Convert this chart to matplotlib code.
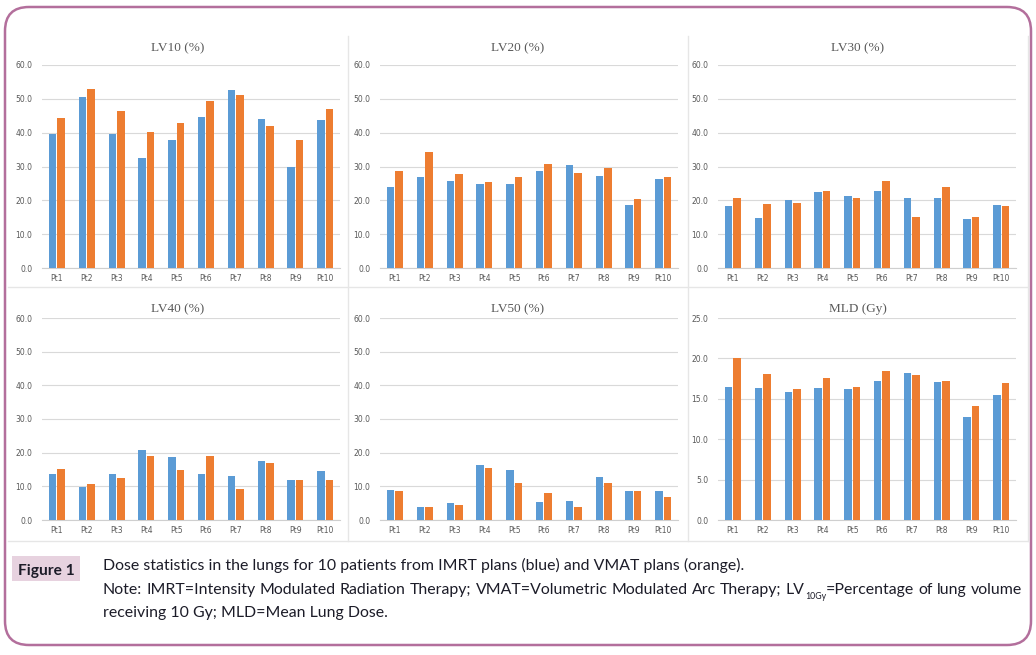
import numpy as np
import matplotlib
matplotlib.use("Agg")
import matplotlib.pyplot as plt
from matplotlib.patches import FancyBboxPatch, Rectangle
from matplotlib.transforms import IdentityTransform
from matplotlib.lines import Line2D

# ---------------- data ----------------
patients = ["Pt1", "Pt2", "Pt3", "Pt4", "Pt5", "Pt6", "Pt7", "Pt8", "Pt9", "Pt10"]

lv10_imrt = [39.5, 50.6, 39.5, 32.4, 37.7, 44.7, 52.7, 43.9, 30.0, 43.6]
lv10_vmat = [44.4, 52.9, 46.5, 40.1, 43.0, 49.5, 51.2, 41.9, 37.7, 47.1]

lv20_imrt = [24.0, 26.9, 25.7, 24.8, 24.8, 28.7, 30.3, 27.1, 18.7, 26.2]
lv20_vmat = [28.8, 34.4, 27.7, 25.3, 26.9, 30.6, 28.0, 29.7, 20.4, 26.9]

lv30_imrt = [18.2, 14.9, 20.1, 22.5, 21.4, 22.9, 20.8, 20.8, 14.4, 18.7]
lv30_vmat = [20.6, 19.0, 19.2, 22.8, 20.6, 25.8, 15.2, 23.9, 15.1, 18.2]

lv40_imrt = [13.6, 9.9, 13.6, 20.7, 18.8, 13.6, 13.1, 17.5, 12.0, 14.6]
lv40_vmat = [15.2, 10.6, 12.4, 19.1, 15.0, 18.9, 9.2, 16.8, 12.0, 12.0]

lv50_imrt = [9.0, 4.0, 5.1, 16.4, 14.8, 5.3, 5.7, 12.9, 8.6, 8.6]
lv50_vmat = [8.6, 4.0, 4.6, 15.5, 10.9, 7.9, 4.0, 10.9, 8.6, 6.9]

mld_imrt = [16.4, 16.3, 15.8, 16.3, 16.2, 17.2, 18.2, 17.1, 12.8, 15.5]
mld_vmat = [20.0, 18.1, 16.2, 17.6, 16.5, 18.4, 18.0, 17.2, 14.1, 16.9]

titles = ["LV10 (%)", "LV20 (%)", "LV30 (%)", "LV40 (%)", "LV50 (%)", "MLD (Gy)"]
imrt_series = [lv10_imrt, lv20_imrt, lv30_imrt, lv40_imrt, lv50_imrt, mld_imrt]
vmat_series = [lv10_vmat, lv20_vmat, lv30_vmat, lv40_vmat, lv50_vmat, mld_vmat]
y_max = [60, 60, 60, 60, 60, 25]
y_step = [10, 10, 10, 10, 10, 5]

caption_label = "Figure 1"
caption_line1 = ("Dose statistics in the lungs for 10 patients from IMRT plans (blue) "
                 "and VMAT plans (orange).")
caption_line2_a = ("Note: IMRT=Intensity Modulated Radiation Therapy; VMAT=Volumetric "
                   "Modulated Arc Therapy;")
caption_line2_lv = "LV"
caption_line2_sub = "10Gy"
caption_line2_b = "=Percentage of lung volume"
caption_line3 = "receiving 10 Gy; MLD=Mean Lung Dose."

# ---------------- style ----------------
BLUE = "#5b9bd5"
ORANGE = "#ed7d31"
GRID = "#d9d9d9"
TICKC = "#595959"
BORDER = "#b36f9c"
CAP_FONT = ["Lato", "DejaVu Sans"]

W, H = 1036, 655
fig = plt.figure(figsize=(W / 100, H / 100), dpi=100)
fig.patch.set_facecolor("white")


def px_axes(x0, x1, ytop, ybot):
    return fig.add_axes([x0 / W, 1 - ybot / H, (x1 - x0) / W, (ybot - ytop) / H])


def ftext(x, y, s, **kw):
    return fig.text(x / W, 1 - y / H, s, **kw)


# panel geometry (pixels)
cols = [(42, 340), (380, 678), (718, 1016)]
rows = [(65, 268), (318, 520)]
panel_centers = [178, 518, 858]
title_y = [48, 309]

x = np.arange(len(patients))
bw = 0.25
for i in range(6):
    r, c = divmod(i, 3)
    ax = px_axes(cols[c][0], cols[c][1], rows[r][0], rows[r][1])
    ax.bar(x - 0.14, imrt_series[i], width=bw, color=BLUE, zorder=3)
    ax.bar(x + 0.145, vmat_series[i], width=bw, color=ORANGE, zorder=3)
    ax.set_xlim(-0.5, len(patients) - 0.5)
    ax.set_ylim(0, y_max[i])
    ticks = np.arange(0, y_max[i] + 0.01, y_step[i])
    ax.set_yticks(ticks)
    ax.set_yticklabels([f"{t:.1f}" for t in ticks])
    ax.set_xticks(x)
    ax.set_xticklabels(patients)
    ax.tick_params(axis="both", length=0, labelsize=5.5, labelcolor=TICKC)
    ax.tick_params(axis="y", pad=7)
    ax.tick_params(axis="x", pad=4.5)
    ax.grid(axis="y", color=GRID, linewidth=0.8, zorder=0)
    for s in ["top", "right", "left"]:
        ax.spines[s].set_visible(False)
    ax.spines["bottom"].set_color("#cfcfcf")
    ax.spines["bottom"].set_linewidth(0.8)
    ax.set_facecolor("none")
    ftext(panel_centers[c], title_y[r], titles[i], ha="center", va="center",
          family="Liberation Serif", fontsize=9.5, color=TICKC)

# panel separators
ident = IdentityTransform()
for xs in [348, 688, 1028]:
    fig.add_artist(Line2D([xs, xs], [H - 36, H - 541], color="#e6e6e6", lw=1,
                          transform=ident))
for ys in [287, 541]:
    fig.add_artist(Line2D([8, 1028], [H - ys, H - ys], color="#e6e6e6", lw=1,
                          transform=ident))

# outer rounded border
fig.add_artist(FancyBboxPatch((5, H - 645), 1026, 638,
                              boxstyle="round,pad=0,rounding_size=24",
                              fill=False, edgecolor=BORDER, linewidth=1.8,
                              transform=ident))

# caption
fig.add_artist(Rectangle((12, H - 581), 68, 25, facecolor="#e7d2df",
                         edgecolor="none", transform=ident))

renderer = fig.canvas.get_renderer()


def width_px(s, size, weight="normal"):
    t = fig.text(0, 0, s, fontsize=size, family=CAP_FONT, weight=weight)
    w = t.get_window_extent(renderer).width
    t.remove()
    return w


# fit sizes to measured widths in the reference
cap_size = 12 * 637 / width_px(caption_line1, 12)
lab_size = 12 * 56 / width_px(caption_label, 12, "bold")
TXT = "#1c1c28"

ftext(18, 575, caption_label, fontsize=lab_size, family=CAP_FONT, weight="bold",
      color=TXT, va="baseline", ha="left")
ftext(103, 570, caption_line1, fontsize=cap_size, family=CAP_FONT, color=TXT,
      va="baseline", ha="left")

# justified second line
sub_size = cap_size * 0.55
words_a = caption_line2_a.split(" ")
words_b = caption_line2_b.split(" ")
tokens = [("w", w) for w in words_a] + [("lv", None)] + [("w", w) for w in words_b[1:]]
first_b = words_b[0]
widths = []
for kind, w in tokens:
    if kind == "w":
        widths.append(width_px(w, cap_size))
    else:
        widths.append(width_px(caption_line2_lv, cap_size) + width_px(caption_line2_sub, sub_size)
                      + width_px(first_b, cap_size))
x0, x1 = 103, 1022
gap = (x1 - x0 - sum(widths)) / (len(tokens) - 1)
xc = x0
for (kind, w), wd in zip(tokens, widths):
    if kind == "w":
        ftext(xc, 594, w, fontsize=cap_size, family=CAP_FONT, color=TXT,
              va="baseline", ha="left")
    else:
        ftext(xc, 594, caption_line2_lv, fontsize=cap_size, family=CAP_FONT, color=TXT,
              va="baseline", ha="left")
        w1 = width_px(caption_line2_lv, cap_size)
        ftext(xc + w1, 599, caption_line2_sub, fontsize=sub_size, family=CAP_FONT,
              color=TXT, va="baseline", ha="left")
        w2 = width_px(caption_line2_sub, sub_size)
        ftext(xc + w1 + w2, 594, first_b, fontsize=cap_size, family=CAP_FONT, color=TXT,
              va="baseline", ha="left")
    xc += wd + gap

ftext(103, 617, caption_line3, fontsize=cap_size, family=CAP_FONT, color=TXT,
      va="baseline", ha="left")

fig.savefig("out.png", dpi=100, facecolor="white")
